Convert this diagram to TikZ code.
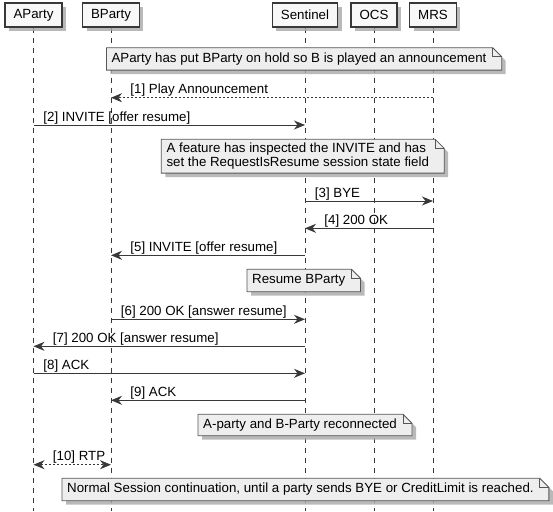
\documentclass[tikz,border=0pt]{standalone}
\usepackage{fontspec}
\setmainfont{Liberation Sans}
\usetikzlibrary{arrows.meta,shadows}
\pgfdeclarelayer{background}
\pgfsetlayers{background,main}
\definecolor{partfill}{HTML}{F8F8F8}
\definecolor{notefill}{HTML}{EEEEEE}
\definecolor{linecol}{HTML}{383838}
\definecolor{shadecol}{HTML}{A8A8A8}
\tikzset{
  party/.style={draw=linecol, line width=1.2pt, fill=partfill, minimum height=24pt,
    inner xsep=8.5pt, drop shadow={shadow xshift=4pt, shadow yshift=-4pt, fill=shadecol, opacity=.8}},
  life/.style={linecol, line width=0.8pt, dash pattern=on 5pt off 5pt},
  msg/.style={linecol, line width=0.9pt, -{Stealth[length=11pt,width=9pt,inset=3.5pt]}},
  msgdash/.style={msg, dash pattern=on 2pt off 2pt},
  msgboth/.style={msgdash, {Stealth[length=11pt,width=9pt,inset=3.5pt]}-{Stealth[length=11pt,width=9pt,inset=3.5pt]}},
  lbl/.style={anchor=base west, inner sep=0pt, text=black, yshift=4pt},
  notebox/.style={anchor=north west, inner xsep=5pt, inner ysep=0pt, align=left, minimum height=22pt},
  notepaper/.style={fill=notefill, draw=linecol!85, line width=0.8pt},
}
\begin{document}
\begin{tikzpicture}[x=1pt, y=-1pt, font=\fontsize{13.3}{14}\selectfont]
  \useasboundingbox (0,0) rectangle (553,511);
  % 1. participants
  \node[party] (aparty) at (33.5,15) {AParty};
  \node[party] (bparty) at (111,15) {BParty};
  \node[party] (sentinel) at (305,15) {Sentinel};
  \node[party] (ocs) at (374,15) {OCS};
  \node[party] (mrs) at (433,15) {MRS};
  \coordinate (bottom) at (0,511);
  % 2. message rows
  \coordinate (r1) at (0,97.7);
  \coordinate (r2) at (0,125);
  \coordinate (r3) at (0,201);
  \coordinate (r4) at (0,228.3);
  \coordinate (r5) at (0,255.3);
  \coordinate (r6) at (0,319.3);
  \coordinate (r7) at (0,346.3);
  \coordinate (r8) at (0,373.3);
  \coordinate (r9) at (0,400.3);
  \coordinate (r10) at (0,464.7);
  % 3. notes
  \node[notebox] (n1) at (106.4,47.7) {AParty has put BParty on hold so B is played an announcement};
  \node[notebox, minimum height=33.4pt] (n2) at (161.3,139.3) {A feature has inspected the INVITE and has\\set the RequestIsResume session state field};
  \node[notebox] (n3) at (247,269.3) {Resume BParty};
  \node[notebox, minimum height=21pt] (n4) at (198,414.3) {A-party and B-Party reconnected};
  \node[notebox] (n5) at (62,478.3) {Normal Session continuation, until a party sends BYE or CreditLimit is reached.};
  % lifelines and note paper behind the text
  \begin{pgfonlayer}{background}
    \foreach \p in {aparty,bparty,sentinel,ocs,mrs}
      \draw[life] (\p.south) -- (\p |- bottom);
    \foreach \n in {n1,n2,n3,n4,n5} {
      \fill[shadecol, opacity=.8] ([shift={(4pt,-4pt)}]\n.north west) -- ([shift={(5pt,-4pt)}]\n.north east)
        -- ([shift={(14pt,-13pt)}]\n.north east) -- ([shift={(14pt,-4pt)}]\n.south east)
        -- ([shift={(4pt,-4pt)}]\n.south west) -- cycle;
      \filldraw[notepaper] (\n.north west) -- ([xshift=1pt]\n.north east)
        -- ([xshift=10pt,yshift=-9pt]\n.north east) -- ([xshift=10pt]\n.south east)
        -- (\n.south west) -- cycle;
      \draw[notepaper, fill=none] ([xshift=1pt]\n.north east) |- ([xshift=10pt,yshift=-9pt]\n.north east);
    }
  \end{pgfonlayer}
  % 4. messages
  \draw[msgdash] (mrs |- r1) -- (bparty |- r1) node[lbl, xshift=19pt] {[1] Play Announcement};
  \draw[msg] (aparty |- r2) node[lbl, xshift=9.5pt] {[2] INVITE [offer resume]} -- (sentinel |- r2);
  \draw[msg] (sentinel |- r3) node[lbl, xshift=9.5pt] {[3] BYE} -- (mrs |- r3);
  \draw[msg] (mrs |- r4) -- (sentinel |- r4) node[lbl, xshift=19pt] {[4] 200 OK};
  \draw[msg] (sentinel |- r5) -- (bparty |- r5) node[lbl, xshift=19pt] {[5] INVITE [offer resume]};
  \draw[msg] (bparty |- r6) node[lbl, xshift=9.5pt] {[6] 200 OK [answer resume]} -- (sentinel |- r6);
  \draw[msg] (sentinel |- r7) -- (aparty |- r7) node[lbl, xshift=19pt] {[7] 200 OK [answer resume]};
  \draw[msg] (aparty |- r8) node[lbl, xshift=9.5pt] {[8] ACK} -- (sentinel |- r8);
  \draw[msg] (sentinel |- r9) -- (bparty |- r9) node[lbl, xshift=19pt] {[9] ACK};
  \draw[msgboth] (aparty |- r10) node[lbl, xshift=19pt] {[10] RTP} -- (bparty |- r10);
\end{tikzpicture}
\end{document}
